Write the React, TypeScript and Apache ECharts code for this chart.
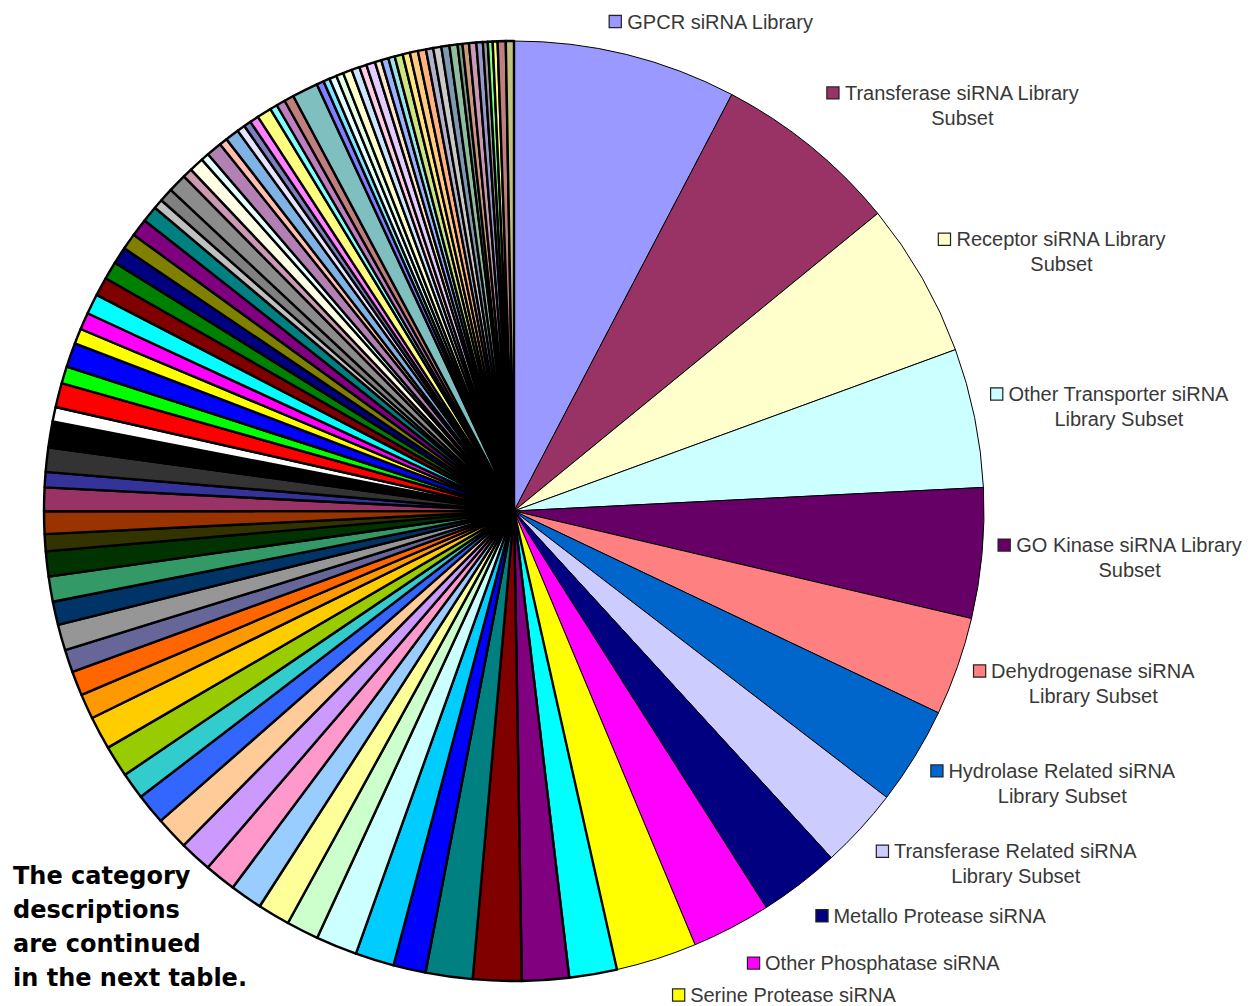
import React, { useEffect, useRef } from "react";
import * as echarts from "echarts";

// ---- data (share of each slice, in degrees of the circle) ----
const labelledNames: string[] = [
  "GPCR siRNA Library",
  "Transferase siRNA Library\nSubset",
  "Receptor siRNA Library\nSubset",
  "Other Transporter siRNA\nLibrary Subset",
  "GO Kinase siRNA Library\nSubset",
  "Dehydrogenase siRNA\nLibrary Subset",
  "Hydrolase Related siRNA\nLibrary Subset",
  "Transferase Related siRNA\nLibrary Subset",
  "Metallo Protease siRNA",
  "Other Phosphatase siRNA",
  "Serine Protease siRNA",
];
const labelledValues: number[] = [27.6, 23.1, 19.2, 17.2, 16.1, 12.2, 12.1, 10.0, 10.0, 9.8, 10.0];

// categories continued in the next table (unlabelled here)
const continuedValuesA: number[] = [
  5.9, 5.8, 6.0, 5.8, 4.0, 4.8, 5.1, 4.0, 4.0, 4.0, 3.9, 4.0, 4.1, 3.8, 3.3, 3.9, 4.1, 3.1, 3.0, 2.8,
  3.2, 2.9, 3.1, 3.1, 2.1, 2.8, 2.9, 1.9, 3.0, 3.2, 1.8, 3.0, 2.1, 3.0, 1.9, 2.1, 2.5, 2.3, 2.2, 2.1,
  2.0, 2.2, 2.0, 1.2, 1.7,
];
const continuedValuesB: number[] = [
  2.3, 1.2, 1.8, 1.0, 1.9, 1.0, 1.7, 1.0, 0.9, 1.1, 1.8, 0.9, 1.1, 1.2, 3.2, 0.9, 0.8, 0.9, 0.9, 1.1,
  1.0, 0.9, 1.1, 0.8, 0.9, 0.8, 1.0, 0.9, 1.0, 1.0, 0.9, 1.0, 1.0, 1.0, 0.6, 0.8, 0.9, 0.8, 0.6, 0.6,
  0.6, 1.0, 1.0,
];

const noteText = "The category\ndescriptions\nare continued\nin the next table.";

// ---- styles ----
const paletteA = [
  "#9999FF", "#993366", "#FFFFCC", "#CCFFFF", "#660066", "#FF8080", "#0066CC", "#CCCCFF",
  "#000080", "#FF00FF", "#FFFF00", "#00FFFF", "#800080", "#800000", "#008080", "#0000FF",
  "#00CCFF", "#CCFFFF", "#CCFFCC", "#FFFF99", "#99CCFF", "#FF99CC", "#CC99FF", "#FFCC99",
  "#3366FF", "#33CCCC", "#99CC00", "#FFCC00", "#FF9900", "#FF6600", "#666699", "#969696",
  "#003366", "#339966", "#003300", "#333300", "#993300", "#993366", "#333399", "#333333",
  "#000000", "#FFFFFF", "#FF0000", "#00FF00", "#0000FF", "#FFFF00", "#FF00FF", "#00FFFF",
  "#800000", "#008000", "#000080", "#808000", "#800080", "#008080", "#C0C0C0", "#808080",
];
const paletteB = [
  "#8C8C8C", "#CC99B2", "#FFFFE5", "#E5FFFF", "#B280B2", "#FFBFB0", "#7FB2E5", "#E5E5FF",
  "#7F7FBF", "#FF7FFF", "#FFFF7F", "#7FFFFF", "#BF7FBF", "#BF7F7F", "#7FBFBF", "#7F7FFF",
  "#7FE5FF", "#E5FFFF", "#E5FFE5", "#FFFFCC", "#CCE5FF", "#FFCCE5", "#E5CCFF", "#FFE5CC",
  "#99B2FF", "#99E5E5", "#CCE57F", "#FFE57F", "#FFCC7F", "#FFB27F", "#B2B2CC", "#CACACA",
  "#7F99B2", "#8FBF9F", "#7F997F", "#CC997F", "#CC99B2", "#9999CC", "#999999", "#7FFF7F",
  "#FFFF7F", "#BF7F7F", "#BFBF7F",
];

const W = 1252;
const H = 1006;
const CX = 514;
const CY = 511;
const R = 470;
const LABEL_FONT = '"Liberation Sans", Arial, Helvetica, sans-serif';

export default function App() {
  const ref = useRef<HTMLDivElement>(null);

  useEffect(() => {
    if (!ref.current) return;
    const chart = echarts.init(ref.current, undefined, { renderer: "svg" });

    const values = [...labelledValues, ...continuedValuesA, ...continuedValuesB];
    const colors = [...paletteA, ...paletteB];
    const total = values.reduce((a, b) => a + b, 0);
    const mids: number[] = [];
    let cum = 0;
    values.forEach((v) => {
      mids.push(((cum + v / 2) / total) * 360);
      cum += v;
    });

    const data = values.map((v, i) => {
      const labelled = i < labelledNames.length;
      return {
        value: v,
        name: labelled ? labelledNames[i] : "Category " + (i + 1),
        itemStyle: {
          color: colors[i % colors.length],
          borderColor: "#000",
          borderWidth: labelled ? 1 : 2.4,
        },
        label: { show: labelled },
      };
    });

    const rich: Record<string, any> = {
      t: { fontSize: 20, fontFamily: LABEL_FONT, color: "#383838", lineHeight: 24, padding: [0, 0, 0, 6] },
      s: { fontSize: 20, fontFamily: LABEL_FONT, color: "#383838", lineHeight: 26, padding: [0, 0, 0, 18] },
    };
    labelledNames.forEach((_, i) => {
      rich["m" + i] = {
        width: 11,
        height: 11,
        backgroundColor: colors[i],
        borderColor: "#222",
        borderWidth: 1.2,
      };
    });

    const option: any = {
      animation: false,
      backgroundColor: "#ffffff",
      series: [
        {
          type: "pie",
          center: [CX, CY],
          radius: R,
          startAngle: 90,
          clockwise: true,
          avoidLabelOverlap: false,
          emphasis: { disabled: true },
          labelLine: { show: false },
          label: {
            position: "outside",
            formatter: (p: any) => {
              const lines = String(p.name).split("\n");
              let s = `{m${p.dataIndex}|}{t|${lines[0]}}`;
              if (lines[1]) s += `\n{s|${lines[1]}}`;
              return s;
            },
            rich,
          },
          labelLayout: (params: any) => {
            const i = params.dataIndex;
            if (i >= labelledNames.length) return {};
            const rad = (mids[i] * Math.PI) / 180;
            const px = CX + R * Math.sin(rad);
            const py = CY - R * Math.cos(rad);
            const w = params.labelRect.width;
            const h = params.labelRect.height;
            let left = px + 16;
            let gap = 30;
            if (mids[i] < 20) {
              left = px - 17;
              gap = 24;
            }
            let y = py - Math.cos(rad) * (h / 2 + gap);
            // keep the label inside the picture
            y = Math.min(y, H - h / 2 - 1);
            return { x: left + w / 2, y, align: "center", verticalAlign: "middle" };
          },
          data,
        },
      ],
      graphic: [
        {
          type: "text",
          left: 13,
          top: 859,
          style: {
            text: noteText,
            font: 'bold 24px "DejaVu Sans", Verdana, sans-serif',
            lineHeight: 34,
            fill: "#000",
          },
        },
      ],
    };

    chart.setOption(option);
    return () => chart.dispose();
  }, []);

  return (
    <div
      ref={ref}
      style={{ position: "fixed", left: 0, top: 0, width: W, height: H, background: "#fff" }}
    />
  );
}
